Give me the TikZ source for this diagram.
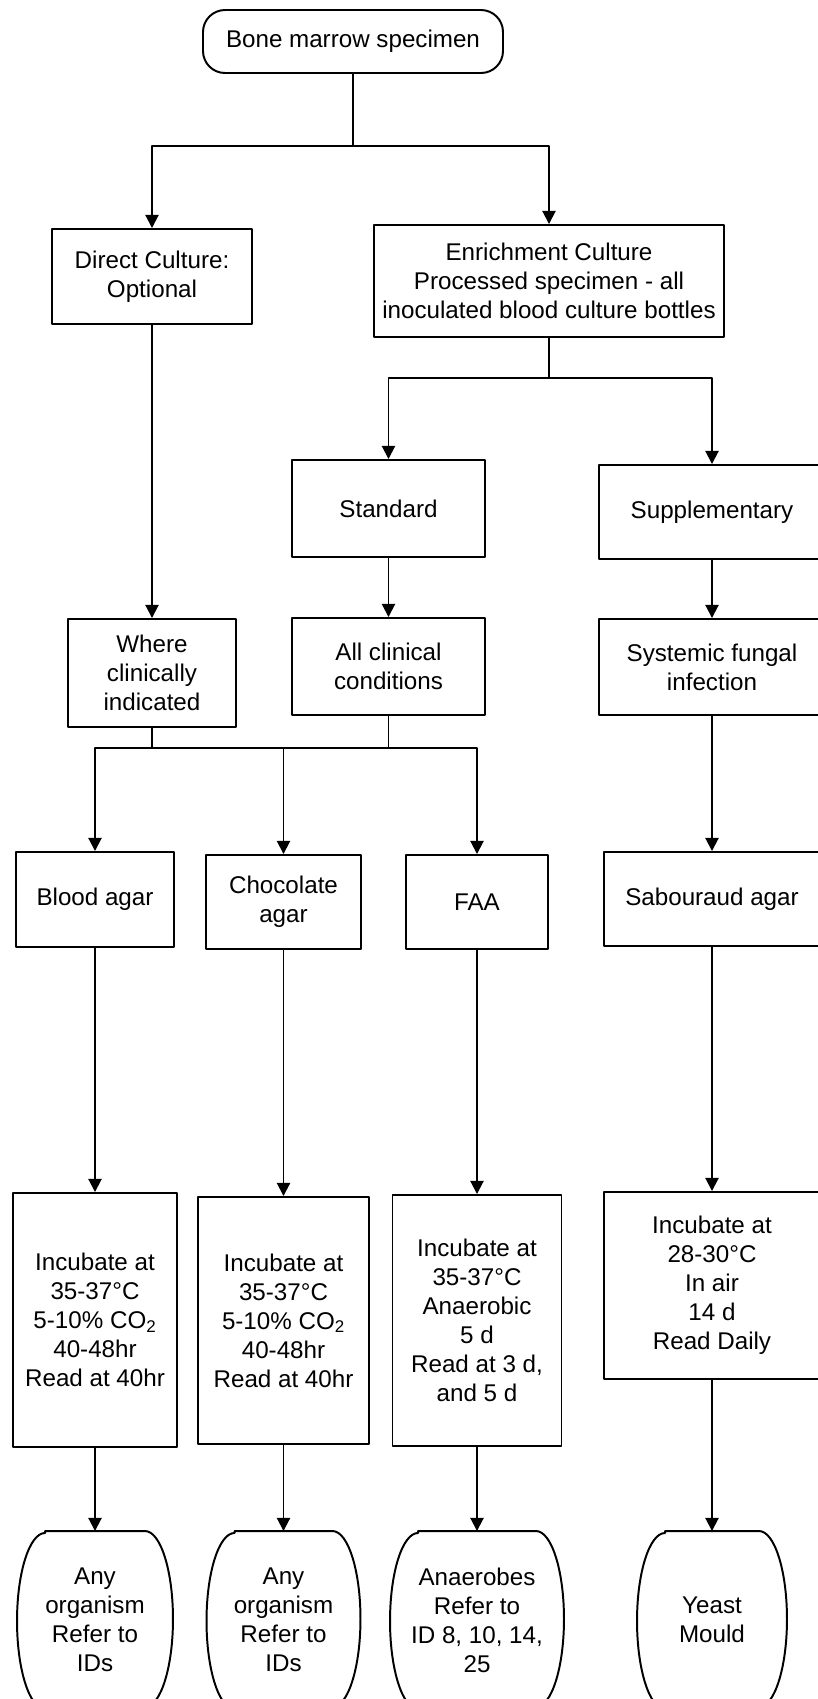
\documentclass[tikz,border=0pt]{standalone}
\usepackage{fontspec}
\setmainfont{Liberation Sans}
\usetikzlibrary{arrows.meta}
\usetikzlibrary{calc}

\begin{document}
\begin{tikzpicture}[line width=1.4pt, line join=round, >={Triangle[length=0.33cm,width=0.33cm]},
	box/.style={draw, align=center, inner sep=2pt, font=\fontsize{17.2}{20.6}\selectfont},
	startbox/.style={box, rounded corners=0.55cm},
	endbox/.style={box, draw=none, minimum height=4.4cm}]
	\useasboundingbox (0,0) rectangle (20.45,-42.475);

	\node[startbox, minimum width=7.5cm, minimum height=1.575cm] (spec) at (8.825,-1.0375) {Bone marrow specimen};

	\node[box, minimum width=5cm, minimum height=2.375cm] (direct) at (3.8,-6.9125) {Direct Culture:\\Optional};
	\node[box, minimum width=8.75cm, minimum height=2.8cm] (enrich) at (13.725,-7.025) {Enrichment Culture\\Processed specimen - all\\inoculated blood culture bottles};

	\node[box, minimum width=4.825cm, minimum height=2.425cm] (standard) at (9.7125,-12.7125) {Standard};
	\node[box, minimum width=5.65cm, minimum height=2.35cm] (suppl) at (17.8,-12.8) {Supplementary};

	\node[box, minimum width=4.2cm, minimum height=2.7cm] (where) at (3.8,-16.825) {Where\\clinically\\indicated};
	\node[box, minimum width=4.825cm, minimum height=2.425cm] (allclin) at (9.7125,-16.6625) {All clinical\\conditions};
	\node[box, minimum width=5.65cm, minimum height=2.4cm] (fungal) at (17.8,-16.675) {Systemic fungal\\infection};

	\node[box, minimum width=3.95cm, minimum height=2.375cm] (blood) at (2.375,-22.4875) {Blood agar};
	\node[box, minimum width=3.875cm, minimum height=2.35cm] (choc) at (7.0875,-22.55) {Chocolate\\agar};
	\node[box, minimum width=3.55cm, minimum height=2.35cm] (faa) at (11.925,-22.55) {FAA};
	\node[box, minimum width=5.4cm, minimum height=2.35cm] (sab) at (17.8,-22.475) {Sabouraud agar};

	\node[box, minimum width=4.1cm, minimum height=6.35cm] (inc1) at (2.375,-33) {Incubate at\\35-37°C\\5-10\% CO\textsubscript{2}\\40-48hr\\Read at 40hr};
	\node[box, minimum width=4.275cm, minimum height=6.175cm] (inc2) at (7.0875,-33.0125) {Incubate at\\35-37°C\\5-10\% CO\textsubscript{2}\\40-48hr\\Read at 40hr};
	\node[box, minimum width=4.225cm, minimum height=6.275cm] (inc3) at (11.925,-33.0125) {Incubate at\\35-37°C\\Anaerobic\\5 d\\Read at 3 d,\\and 5 d};
	\node[box, minimum width=5.4cm, minimum height=4.675cm] (inc4) at (17.8,-32.1375) {Incubate at\\28-30°C\\In air\\14 d\\Read Daily};

	\node[endbox, minimum width=3.85cm] (any1) at (2.375,-40.5) {Any\\organism\\Refer to\\IDs};
	\node[endbox, minimum width=3.8cm] (any2) at (7.0875,-40.5) {Any\\organism\\Refer to\\IDs};
	\node[endbox, minimum width=4.3cm] (anaer) at (11.925,-40.5) {Anaerobes\\Refer to\\ID 8, 10, 14,\\25};
	\node[endbox, minimum width=3.7cm] (yeast) at (17.8,-40.5) {Yeast\\Mould};
	\foreach \n in {any1,any2,anaer,yeast}
		\draw ($(\n.north west)+(0.7,0)$) -- ($(\n.north east)+(-0.7,0)$) arc[start angle=90, end angle=-90, x radius=0.7, y radius=2.2]
			-- ($(\n.south west)+(0.7,0)$) arc[start angle=270, end angle=90, x radius=0.7, y radius=2.2] -- cycle;

	\coordinate (j1) at (8.825,-3.65);
	\draw (spec) -- (j1);
	\draw[->] (j1) -| (direct);
	\draw[->] (j1) -| (enrich);

	\coordinate (j2) at (13.725,-9.45);
	\draw (enrich) -- (j2);
	\draw[->] (j2) -| (standard);
	\draw[->] (j2) -| (suppl);

	\draw[->] (direct) -- (where);
	\draw[->] (standard) -- (allclin);
	\draw[->] (suppl) -- (fungal);

	\coordinate (j3) at (3.8,-18.7);
	\coordinate (j4) at (9.7125,-18.7);
	\draw (where) -- (j3) -- (j4) -- (allclin);
	\draw[->] (j3) -| (blood);
	\draw[->] (j4) -| (choc);
	\draw[->] (j4) -| (faa);
	\draw[->] (fungal) -- (sab);

	\foreach \a/\b in {blood/inc1, choc/inc2, faa/inc3, sab/inc4, inc1/any1, inc2/any2, inc3/anaer, inc4/yeast}
		\draw[->] (\a) -- (\b);
\end{tikzpicture}
\end{document}
